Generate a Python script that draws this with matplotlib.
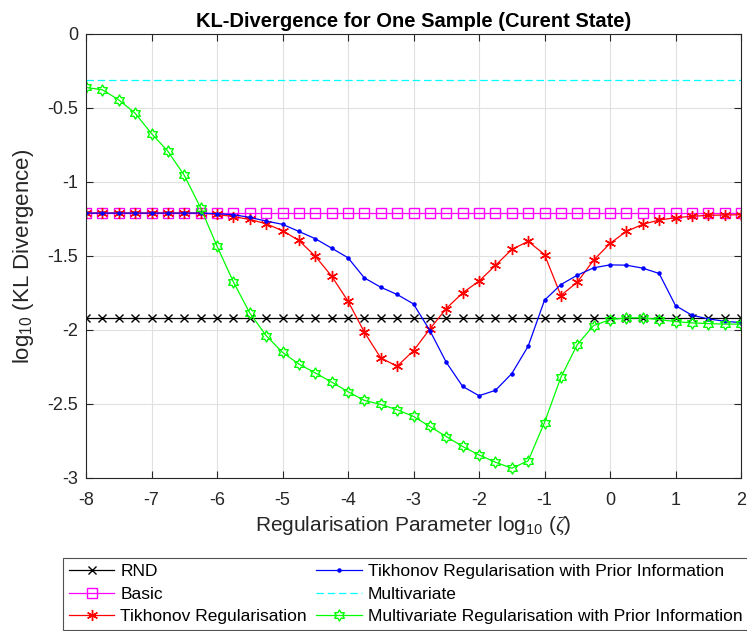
"""KL-divergence vs regularisation parameter, MATLAB-style figure."""

import matplotlib
matplotlib.use("Agg")
import matplotlib.pyplot as plt
import numpy as np
from matplotlib.path import Path

plt.rcParams["font.family"] = ["Liberation Sans", "DejaVu Sans"]
plt.rcParams["mathtext.fontset"] = "custom"
plt.rcParams["mathtext.rm"] = "Liberation Sans"
plt.rcParams["mathtext.it"] = "Liberation Serif:italic"

# log10(zeta) grid
zeta = np.arange(-8, 2.01, 0.25)

rnd_level = -1.92
basic_level = -1.21
multivariate_level = -0.31

tikhonov = [
    -1.21, -1.21, -1.21, -1.21, -1.21, -1.21, -1.21, -1.21, -1.219,
    -1.234, -1.253, -1.282, -1.329, -1.395, -1.501, -1.636, -1.805,
    -2.015, -2.189, -2.245, -2.14, -1.993, -1.855, -1.749, -1.67,
    -1.564, -1.456, -1.401, -1.49, -1.767, -1.677, -1.528, -1.415,
    -1.334, -1.286, -1.257, -1.241, -1.232, -1.225, -1.223, -1.221,
]

tikhonov_prior = [
    -1.21, -1.21, -1.21, -1.21, -1.21, -1.21, -1.21, -1.21, -1.214,
    -1.221, -1.239, -1.264, -1.286, -1.334, -1.383, -1.447, -1.512,
    -1.648, -1.711, -1.76, -1.824, -2.004, -2.218, -2.381, -2.444,
    -2.408, -2.295, -2.11, -1.799, -1.693, -1.63, -1.58, -1.56,
    -1.562, -1.582, -1.618, -1.835, -1.90, -1.925, -1.941, -1.95,
]

mv_prior = [
    -0.361, -0.377, -0.445, -0.535, -0.673, -0.792, -0.955, -1.174,
    -1.433, -1.675, -1.885, -2.038, -2.151, -2.23, -2.29, -2.352,
    -2.417, -2.476, -2.503, -2.539, -2.584, -2.652, -2.72, -2.787,
    -2.844, -2.893, -2.934, -2.884, -2.625, -2.32, -2.099, -1.97,
    -1.93, -1.918, -1.918, -1.93, -1.943, -1.952, -1.957, -1.96, -1.96,
]

# six-pointed outline star (MATLAB "hexagram")
ang = np.deg2rad(90 + 30 * np.arange(12))
rad = np.where(np.arange(12) % 2 == 0, 1.0, 1 / np.sqrt(3))
verts = np.column_stack([rad * np.cos(ang), rad * np.sin(ang)])
verts = np.vstack([verts, verts[:1]])
hexagram = Path(verts, [Path.MOVETO] + [Path.LINETO] * 11 + [Path.CLOSEPOLY])

fig = plt.figure(figsize=(7.47, 6.31), dpi=100)
ax = fig.add_axes([86 / 747, 1 - 478 / 631, 655 / 747, 444 / 631])

n = len(zeta)
ax.plot(zeta, [rnd_level] * n, color="black", marker="x", ms=5.5, lw=0.9,
        label="RND")
ax.plot(zeta, [basic_level] * n, color="magenta", marker="s", ms=6.5,
        mfc="none", lw=0.9, label="Basic")
ax.plot(zeta, tikhonov, color="red", marker=(6, 2, 0), ms=8, mew=1, lw=0.9,
        label="Tikhonov Regularisation")
ax.plot(zeta, tikhonov_prior, color="blue", marker=".", ms=4.5, lw=0.9,
        label="Tikhonov Regularisation with Prior Information")
ax.plot(zeta, [multivariate_level] * n, color="cyan", ls="--", lw=0.9,
        dashes=(6, 3), label="Multivariate")
ax.plot(zeta, mv_prior, color="lime", marker=hexagram, ms=8, mfc="none",
        lw=0.9, label="Multivariate Regularisation with Prior Information")

ax.set_xlim(-8, 2)
ax.set_ylim(-3, 0)
ax.set_xticks(np.arange(-8, 3, 1))
ax.set_yticks(np.arange(-3, 0.01, 0.5))
ax.set_yticklabels(["-3", "-2.5", "-2", "-1.5", "-1", "-0.5", "0"])
ax.set_xticklabels([str(v) for v in range(-8, 3)])
ax.tick_params(direction="in", top=True, right=True, length=5, width=0.8,
               labelsize=13, colors="#262626")
ax.tick_params(axis="x", pad=10)
ax.tick_params(axis="y", pad=5.5)
ax.grid(True, color="#e0e0e0", lw=0.8)
ax.set_axisbelow(True)
for s in ax.spines.values():
    s.set_color("#262626")
    s.set_linewidth(0.8)

ax.set_title("KL-Divergence for One Sample (Curent State)",
             fontsize=14.5, fontweight="bold", pad=5)
ax.set_xlabel(r"Regularisation Parameter log$_{10}$ ($\zeta$)", fontsize=15,
              color="#262626")
ax.set_ylabel(r"log$_{10}$ (KL Divergence)", fontsize=16, color="#262626",
              labelpad=8)

handles, labels = ax.get_legend_handles_labels()
leg = fig.legend(handles, labels, ncol=2, loc="upper left",
                 bbox_to_anchor=(63 / 747, 1 - 558 / 631), borderaxespad=0,
                 fontsize=12.5, frameon=True, fancybox=False,
                 edgecolor="#262626", borderpad=0.35, labelspacing=0.42,
                 handlelength=2.6, handletextpad=0.35, columnspacing=0.55)
leg.get_frame().set_linewidth(0.8)

fig.savefig("out.png", dpi=100)
plt.close(fig)
